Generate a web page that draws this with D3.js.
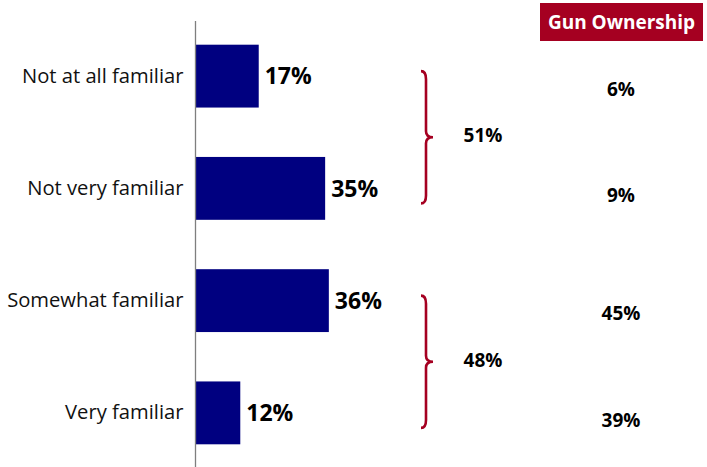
<!DOCTYPE html>
<html>
<head>
<meta charset="utf-8">
<script src="https://cdn.jsdelivr.net/npm/d3@7"></script>
<style>
  html, body { margin: 0; padding: 0; background: #fff; }
  svg { display: block; font-family: "Open Sans", "Lato", sans-serif; }
</style>
</head>
<body>
<svg id="chart" width="707" height="467"></svg>
<script>
// Familiarity levels and share of respondents
const categories = ["Not at all familiar", "Not very familiar", "Somewhat familiar", "Very familiar"];
const values = [17, 35, 36, 12];
// Gun ownership share for each familiarity level
const ownership = [6, 9, 45, 39];
// Grouped totals shown beside the braces
const groups = [
  { from: 0, to: 1, total: 51 },
  { from: 2, to: 3, total: 48 }
];
const headerLabel = "Gun Ownership";

const svg = d3.select("#chart");
const navy = "#000080";
const crimson = "#a50021";

const y = d3.scaleBand()
  .domain(categories)
  .range([20, 469])
  .paddingInner(0.44)
  .paddingOuter(0.22);

const x = d3.scaleLinear().domain([0, 100]).range([196, 565]);

// Bars
svg.selectAll("rect.bar")
  .data(values)
  .join("rect")
  .attr("class", "bar")
  .attr("x", x(0))
  .attr("y", (d, i) => y(categories[i]))
  .attr("width", d => x(d) - x(0))
  .attr("height", y.bandwidth())
  .attr("fill", navy);

// Category axis (labels on the left, separate vertical rule)
const axis = d3.axisLeft(y).tickSize(0).tickPadding(12);
const gAxis = svg.append("g").attr("transform", `translate(${x(0) - 0.5},0)`).call(axis);
gAxis.select(".domain").remove();
gAxis.selectAll("text")
  .attr("font-family", "'Open Sans', Lato, sans-serif")
  .attr("font-size", 20.2)
  .attr("fill", "#111");
svg.append("line")
  .attr("x1", x(0) - 0.5).attr("x2", x(0) - 0.5)
  .attr("y1", 21).attr("y2", 467)
  .attr("stroke", "#7f7f7f").attr("stroke-width", 1.3);

// Value labels at bar ends
svg.selectAll("text.val")
  .data(values)
  .join("text")
  .attr("class", "val")
  .attr("x", d => x(d) + 6)
  .attr("y", (d, i) => y(categories[i]) + y.bandwidth() / 2)
  .attr("dy", "0.36em")
  .attr("font-size", 23)
  .attr("font-weight", 700)
  .attr("fill", "#000")
  .text(d => d + "%");

// Braces with group totals
const cy = i => y(categories[i]) + y.bandwidth() / 2;
const bx = 426;
groups.forEach(g => {
  const top = cy(g.from) - 5;
  const bot = cy(g.to) + 15;
  const mid = (top + bot) / 2;
  const p = d3.path();
  p.moveTo(bx - 5, top);
  p.quadraticCurveTo(bx, top, bx, top + 8);
  p.lineTo(bx, mid - 6);
  p.quadraticCurveTo(bx, mid, bx + 7, mid);
  p.quadraticCurveTo(bx, mid, bx, mid + 6);
  p.lineTo(bx, bot - 8);
  p.quadraticCurveTo(bx, bot, bx - 5, bot);
  svg.append("path")
    .attr("d", p.toString())
    .attr("fill", "none")
    .attr("stroke", crimson)
    .attr("stroke-width", 2.6);
  svg.append("text")
    .attr("x", 483)
    .attr("y", mid - 2)
    .attr("dy", "0.36em")
    .attr("text-anchor", "middle")
    .attr("font-size", 19)
    .attr("font-weight", 700)
    .text(g.total + "%");
});

// Gun ownership header
svg.append("rect")
  .attr("x", 540).attr("y", 3)
  .attr("width", 163).attr("height", 38)
  .attr("fill", crimson);
svg.append("text")
  .attr("x", 621.5).attr("y", 22)
  .attr("dy", "0.36em")
  .attr("text-anchor", "middle")
  .attr("font-size", 19)
  .attr("font-weight", 700)
  .attr("fill", "#fff")
  .text(headerLabel);

// Gun ownership values
svg.selectAll("text.own")
  .data(ownership)
  .join("text")
  .attr("class", "own")
  .attr("x", 621)
  .attr("y", (d, i) => cy(i) + (i % 2 === 0 ? 13 : 7))
  .attr("dy", "0.36em")
  .attr("text-anchor", "middle")
  .attr("font-size", 19)
  .attr("font-weight", 700)
  .text(d => d + "%");
</script>
</body>
</html>
